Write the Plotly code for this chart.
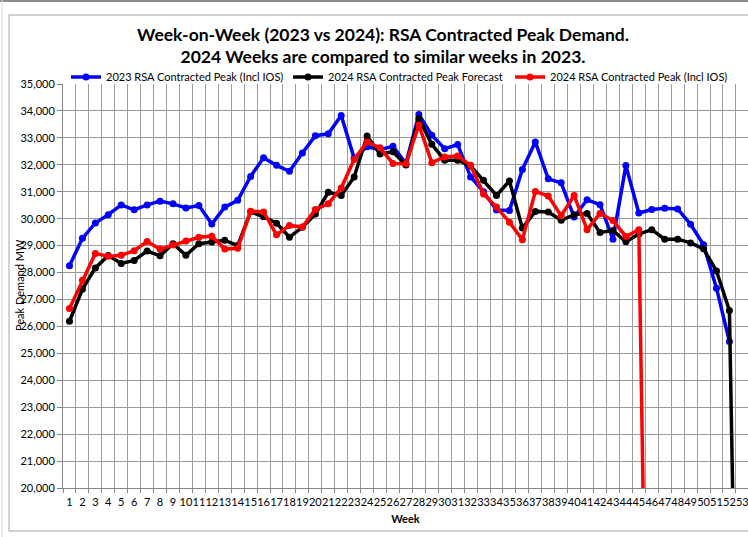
import plotly.graph_objects as go

weeks = list(range(1, 54))
week_labels = [str(w) for w in weeks]

# 2023 RSA Contracted Peak (Incl IOS), weeks 1-52
peak_2023 = [28250, 29270, 29840, 30150, 30510, 30330, 30510, 30650, 30550, 30400,
             30490, 29800, 30430, 30680, 31570, 32260, 31980, 31760, 32440, 33080,
             33150, 33830, 32250, 32670, 32560, 32690, 32050, 33870, 33100, 32600,
             32750, 31550, 31000, 30320, 30300, 31830, 32850, 31480, 31330, 30060,
             30700, 30520, 29240, 31970, 30210, 30340, 30390, 30360, 29790, 29030,
             27420, 25440]

# 2024 RSA Contracted Peak Forecast, weeks 1-53
forecast_2024 = [26190, 27375, 28170, 28630, 28340, 28450, 28800, 28620, 29070, 28640,
                 29070, 29130, 29200, 29000, 30260, 30070, 29830, 29310, 29680, 30170,
                 30980, 30860, 31550, 33070, 32400, 32480, 31990, 33730, 32760, 32170,
                 32170, 31960, 31430, 30860, 31400, 29650, 30270, 30250, 29940, 30150,
                 30190, 29490, 29560, 29140, 29430, 29590, 29240, 29240, 29100, 28880,
                 28060, 26590, 0]

# 2024 RSA Contracted Peak (Incl IOS), weeks 1-46
actual_2024 = [26660, 27710, 28710, 28600, 28640, 28810, 29150, 28870, 29020, 29170,
               29310, 29350, 28870, 28900, 30280, 30250, 29400, 29750, 29690, 30340,
               30550, 31140, 32200, 32850, 32630, 32050, 32040, 33480, 32080, 32290,
               32330, 31980, 30920, 30430, 29870, 29220, 31010, 30840, 30110, 30860,
               29590, 30190, 29930, 29340, 29590, 0]

series = [
    ("2023 RSA Contracted Peak (Incl IOS)", peak_2023, "#0000FF"),
    ("2024 RSA Contracted Peak Forecast", forecast_2024, "#000000"),
    ("2024 RSA Contracted Peak (Incl IOS)", actual_2024, "#FF0000"),
]

FONT = "Lato, 'Open Sans', sans-serif"
W, H = 748, 537
L, R, T, B = 63, 0, 84, 49
pw = W - L - R
ph = H - T - B
cat_w = 12.94

def px_x(px):
    return (px - L) / pw

def px_y(py):
    return (H - B - py) / ph

fig = go.Figure()
for name, vals, col in series:
    fig.add_trace(go.Scatter(
        x=weeks[:len(vals)], y=vals, name=name, mode="lines+markers",
        line=dict(color=col, width=3.5), marker=dict(color=col, size=7),
        cliponaxis=True,
    ))

boundaries = [w - 0.5 for w in range(1, 55)]

fig.update_layout(
    width=W, height=H,
    margin=dict(l=L, r=R, t=T, b=B, autoexpand=False),
    paper_bgcolor="white", plot_bgcolor="white",
    font=dict(family=FONT, size=11, color="#000000"),
    title=dict(
        text="Week-on-Week (2023 vs 2024): RSA Contracted Peak Demand.<br>2024 Weeks are compared to similar weeks in 2023.",
        font=dict(family=FONT, size=17.5, color="#000000", weight="bold"),
        x=383 / W, xanchor="center", xref="container",
        y=1 - 40.5 / H, yanchor="middle", yref="container",
    ),
    showlegend=True,
    legend=dict(
        orientation="h", x=px_x(66), xanchor="left", y=px_y(77), yanchor="middle",
        entrywidth=177, entrywidthmode="pixels", itemwidth=30,
        font=dict(family=FONT, size=11, color="#000000"),
        bgcolor="rgba(0,0,0,0)", traceorder="normal",
    ),
    xaxis=dict(
        automargin=False,
        range=[0.5, 0.5 + pw / cat_w],
        tickmode="array", tickvals=weeks, ticktext=week_labels,
        tickangle=0, ticks="", showgrid=False, zeroline=False,
        ticklabeloverflow="allow",
        showline=True, linecolor="#868686", linewidth=1,
        tickfont=dict(family=FONT, size=11, color="#000000"),
        ticklabelstandoff=4,
        minor=dict(tickmode="array", tickvals=boundaries, showgrid=True,
                   gridcolor="#9E9E9E", gridwidth=1, ticks="outside",
                   ticklen=4, tickcolor="#868686"),
        title=dict(text="<b>Week</b>", font=dict(family=FONT, size=11), standoff=8),
    ),
    yaxis=dict(
        automargin=False,
        range=[20000, 35000], dtick=1000, tickformat=",",
        showgrid=True, gridcolor="#9A9A9A", gridwidth=1, zeroline=False,
        showline=True, linecolor="#868686", linewidth=1,
        ticks="outside", ticklen=5, tickcolor="#868686",
        tickfont=dict(family=FONT, size=11, color="#000000"),
    ),
)

fig.add_annotation(
    text="Peak Demand MW", textangle=-90, xref="paper", yref="paper",
    x=px_x(19), y=px_y(285), showarrow=False, xanchor="center", yanchor="middle",
    font=dict(family=FONT, size=11, color="#000000"),
)

# outer chart frame
fig.add_shape(type="rect", xref="paper", yref="paper",
              x0=px_x(9), x1=px_x(800), y0=px_y(531), y1=px_y(15),
              line=dict(color="#A6A6A6", width=1), layer="below")
fig.add_shape(type="line", xref="paper", yref="paper",
              x0=px_x(0), x1=px_x(800), y0=px_y(1), y1=px_y(1),
              line=dict(color="#8C8C8C", width=2))
fig.add_shape(type="line", xref="paper", yref="paper",
              x0=px_x(2), x1=px_x(2), y0=px_y(537), y1=px_y(0),
              line=dict(color="#D9D9D9", width=1))

fig.write_html("out.html", config={"displayModeBar": False},
               post_script="document.body.style.margin='0px';document.body.style.padding='0px';")
